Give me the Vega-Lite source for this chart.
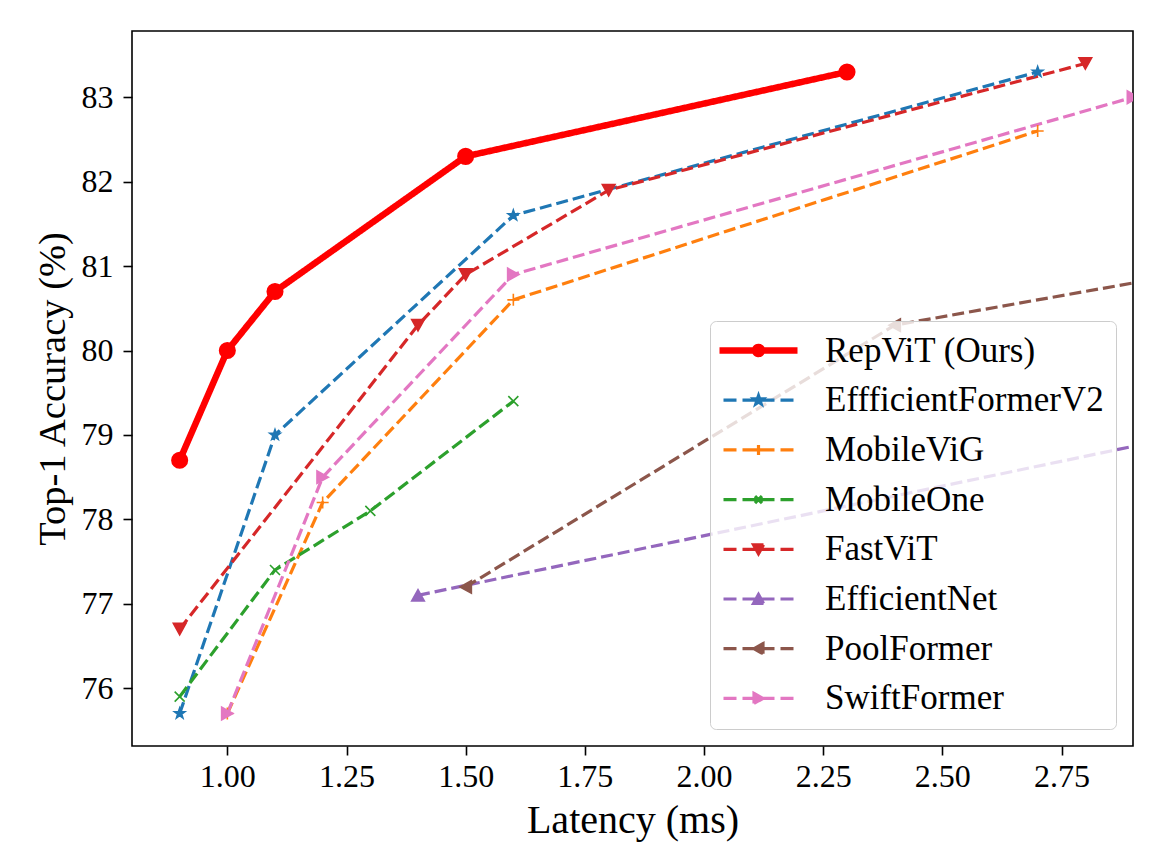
{
  "$schema": "https://vega.github.io/schema/vega-lite/v6.json",
  "width": 1001,
  "height": 715,
  "autosize": {"type": "none"},
  "padding": {"left": 132, "top": 31, "right": 43, "bottom": 114},
  "background": "white",
  "config": {
    "font": "Liberation Serif",
    "view": {"stroke": "black", "strokeWidth": 1.6},
    "axis": {
      "grid": false,
      "domain": false,
      "tickColor": "black",
      "tickWidth": 1.6,
      "tickSize": 9,
      "labelFont": "Liberation Serif",
      "labelFontSize": 32,
      "labelColor": "black",
      "titleFont": "Liberation Serif",
      "titleFontSize": 40,
      "titleFontWeight": "normal",
      "titleColor": "black"
    }
  },
  "data": {
    "values": [
      {"model": "RepViT (Ours)", "latency": 0.9, "acc": 78.7},
      {"model": "RepViT (Ours)", "latency": 1.0, "acc": 80.0},
      {"model": "RepViT (Ours)", "latency": 1.1, "acc": 80.7},
      {"model": "RepViT (Ours)", "latency": 1.5, "acc": 82.3},
      {"model": "RepViT (Ours)", "latency": 2.3, "acc": 83.3},
      {"model": "EffficientFormerV2", "latency": 0.9, "acc": 75.7},
      {"model": "EffficientFormerV2", "latency": 1.1, "acc": 79.0},
      {"model": "EffficientFormerV2", "latency": 1.6, "acc": 81.6},
      {"model": "EffficientFormerV2", "latency": 2.7, "acc": 83.3},
      {"model": "MobileViG", "latency": 1.0, "acc": 75.7},
      {"model": "MobileViG", "latency": 1.2, "acc": 78.2},
      {"model": "MobileViG", "latency": 1.6, "acc": 80.6},
      {"model": "MobileViG", "latency": 2.7, "acc": 82.6},
      {"model": "MobileOne", "latency": 0.9, "acc": 75.9},
      {"model": "MobileOne", "latency": 1.1, "acc": 77.4},
      {"model": "MobileOne", "latency": 1.3, "acc": 78.1},
      {"model": "MobileOne", "latency": 1.6, "acc": 79.4},
      {"model": "FastViT", "latency": 0.9, "acc": 76.7},
      {"model": "FastViT", "latency": 1.4, "acc": 80.3},
      {"model": "FastViT", "latency": 1.5, "acc": 80.9},
      {"model": "FastViT", "latency": 1.8, "acc": 81.9},
      {"model": "FastViT", "latency": 2.8, "acc": 83.4},
      {"model": "EfficientNet", "latency": 1.4, "acc": 77.1},
      {"model": "EfficientNet", "latency": 3.1, "acc": 79.1},
      {"model": "PoolFormer", "latency": 1.5, "acc": 77.2},
      {"model": "PoolFormer", "latency": 2.4, "acc": 80.3},
      {"model": "PoolFormer", "latency": 3.5, "acc": 81.4},
      {"model": "SwiftFormer", "latency": 1.0, "acc": 75.7},
      {"model": "SwiftFormer", "latency": 1.2, "acc": 78.5},
      {"model": "SwiftFormer", "latency": 1.6, "acc": 80.9},
      {"model": "SwiftFormer", "latency": 2.9, "acc": 83.0}
    ]
  },
  "encoding": {
    "x": {
      "field": "latency",
      "type": "quantitative",
      "scale": {"domain": [0.8, 2.9], "nice": false, "zero": false},
      "axis": {"title": "Latency (ms)", "values": [1, 1.25, 1.5, 1.75, 2, 2.25, 2.5, 2.75], "format": ".2f", "labelPadding": 6, "titlePadding": 8}
    },
    "y": {
      "field": "acc",
      "type": "quantitative",
      "scale": {"domain": [75.315, 83.785], "nice": false, "zero": false},
      "axis": {"title": "Top-1 Accuracy (%)", "titleFontSize": 38.5, "values": [76, 77, 78, 79, 80, 81, 82, 83], "format": "d", "labelPadding": 10, "titlePadding": 9}
    },
    "color": {
      "field": "model",
      "type": "nominal",
      "scale": {
        "domain": ["RepViT (Ours)", "EffficientFormerV2", "MobileViG", "MobileOne", "FastViT", "EfficientNet", "PoolFormer", "SwiftFormer"],
        "range": ["#ff0000", "#1f77b4", "#ff7f0e", "#2ca02c", "#d62728", "#9467bd", "#8c564b", "#e377c2"]
      },
      "legend": {
        "title": null,
        "orient": "bottom-right",
        "offset": 17,
        "padding": 12,
        "rowPadding": 13.7,
        "labelFont": "Liberation Serif",
        "labelFontSize": 35,
        "labelColor": "black",
        "labelOffset": 68,
        "labelLimit": 400,
        "symbolSize": 4,
        "fillColor": "rgba(255,255,255,0.8)",
        "strokeColor": "#cccccc",
        "cornerRadius": 6,
        "encode": {
          "symbols": {
            "update": {
              "shape": {"signal": "datum.value === 'RepViT (Ours)' ? 'M-20,0H58M15.5,0A3.5,3.5 0 1,0 22.5,0A3.5,3.5 0 1,0 15.5,0Z' : datum.value === 'EffficientFormerV2' ? 'M-16,0H-3M3,0H35M41,0H54M19,-4.5L20.06,-1.46L23.28,-1.39L20.71,0.56L21.65,3.64L19,1.8L16.35,3.64L17.29,0.56L14.72,-1.39L17.94,-1.46Z' : datum.value === 'MobileViG' ? 'M-16,0H-3M3,0H35M41,0H54M19,-5V5' : datum.value === 'MobileOne' ? 'M-16,0H-3M3,0H35M41,0H54M15.5,-3.5L22.5,3.5M15.5,3.5L22.5,-3.5' : datum.value === 'FastViT' ? 'M-16,0H-3M3,0H35M41,0H54M14,-4.5L24,-4.5L19,4.5Z' : datum.value === 'EfficientNet' ? 'M-16,0H-3M3,0H35M41,0H54M14,4.5L24,4.5L19,-4.5Z' : datum.value === 'PoolFormer' ? 'M-16,0H-3M3,0H35M41,0H54M23.5,-5L23.5,5L14.5,0Z' : 'M-16,0H-3M3,0H35M41,0H54M14.5,-5L14.5,5L23.5,0Z'"},
              "fill": {"scale": "color", "field": "value"},
              "stroke": {"scale": "color", "field": "value"},
              "strokeWidth": {"signal": "datum.value === 'RepViT (Ours)' ? 6.5 : 3.2"},
              "strokeDash": {"value": [1, 0]},
              "opacity": {"value": 1},
              "fillOpacity": {"value": 1},
              "strokeOpacity": {"value": 1},
              "size": {"value": 4}
            }
          }
        }
      }
    }
  },
  "layer": [
    {
      "mark": {"type": "line", "clip": true},
      "encoding": {
        "strokeWidth": {"condition": {"test": "datum.model === 'RepViT (Ours)'", "value": 6.5}, "value": 3.2},
        "strokeDash": {"condition": {"test": "datum.model === 'RepViT (Ours)'", "value": [1, 0]}, "value": [12, 5]}
      }
    },
    {
      "mark": {"type": "point", "filled": true, "clip": true, "opacity": 1, "strokeWidth": 1.6},
      "encoding": {
        "stroke": {
          "field": "model",
          "type": "nominal",
          "scale": {
            "domain": ["RepViT (Ours)", "EffficientFormerV2", "MobileViG", "MobileOne", "FastViT", "EfficientNet", "PoolFormer", "SwiftFormer"],
            "range": ["#ff0000", "#1f77b4", "#ff7f0e", "#2ca02c", "#d62728", "#9467bd", "#8c564b", "#e377c2"]
          },
          "legend": null
        },
        "shape": {
          "condition": [
            {"test": "datum.model === 'RepViT (Ours)'", "value": "circle"},
            {"test": "datum.model === 'EffficientFormerV2'", "value": "M0,-1L0.235,-0.324L0.951,-0.309L0.38,0.124L0.588,0.809L0,0.4L-0.588,0.809L-0.38,0.124L-0.951,-0.309L-0.235,-0.324Z"},
            {"test": "datum.model === 'MobileViG'", "value": "M-1,0H1M0,-1V1"},
            {"test": "datum.model === 'MobileOne'", "value": "M-1,-1L1,1M-1,1L1,-1"},
            {"test": "datum.model === 'FastViT'", "value": "M-1,-0.9L1,-0.9L0,0.9Z"},
            {"test": "datum.model === 'EfficientNet'", "value": "M-1,0.9L1,0.9L0,-0.9Z"},
            {"test": "datum.model === 'PoolFormer'", "value": "M0.9,-1L0.9,1L-0.9,0Z"}
          ],
          "value": "M-0.9,-1L-0.9,1L0.9,0Z"
        },
        "size": {
          "condition": [
            {"test": "datum.model === 'RepViT (Ours)'", "value": 240},
            {"test": "datum.model === 'EffficientFormerV2'", "value": 121},
            {"test": "datum.model === 'MobileOne'", "value": 100},
            {"test": "datum.model === 'MobileViG'", "value": 144}
          ],
          "value": 160
        }
      }
    }
  ]
}
